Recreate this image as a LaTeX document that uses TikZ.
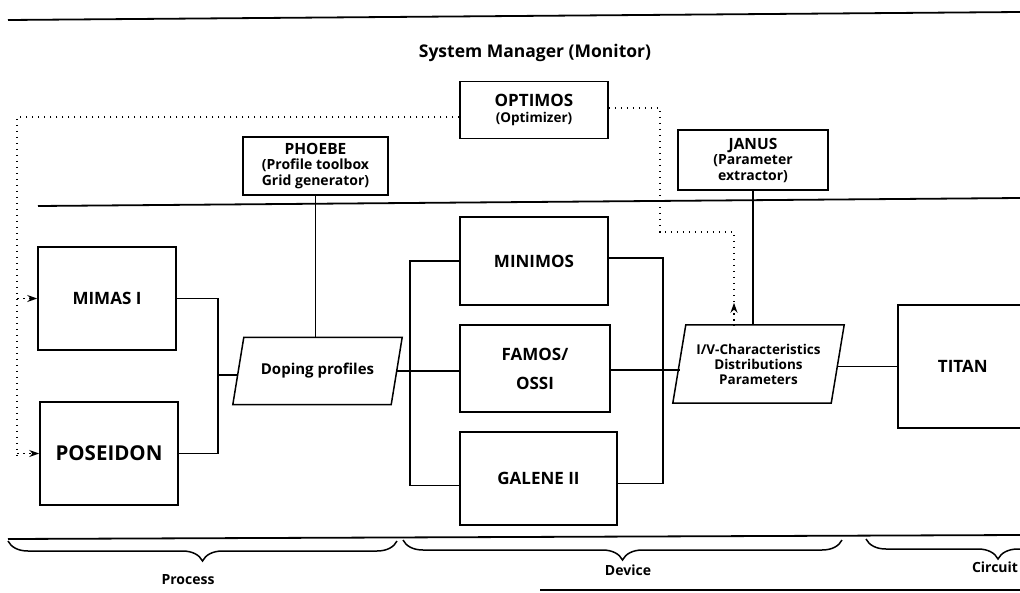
\documentclass[tikz,border=0pt]{standalone}
\usepackage{fontspec}
\setmainfont{Open Sans}
\usetikzlibrary{arrows.meta, positioning, calc, decorations.pathreplacing}

\begin{document}
\begin{tikzpicture}[x=1pt, y=-1pt,
  tool/.style={draw, line width=1.6pt, inner sep=0pt, align=center, font=\fontsize{17}{19}\selectfont\bfseries},
  tag/.style={draw, line width=1.5pt, inner sep=0pt, align=center, font=\fontsize{14}{15.5}\selectfont\bfseries},
  datafile/.style={inner sep=0pt, align=center},
  wire/.style={line width=1.5pt},
  monitor/.style={line width=1.5pt, dash pattern=on 1.5pt off 4.5pt},
  rule/.style={line width=1.8pt},
  span/.style={line width=1.5pt, decorate, decoration={brace, mirror, amplitude=20pt}},
  lbl/.style={font=\fontsize{14}{16}\selectfont\bfseries},
  >={Stealth[length=10pt, width=7pt]}]
  \clip (0,0) rectangle (1020,592);

  % Frame rules
  \draw[rule] (8,20) -- (1020,12);
  \draw[rule] (38,206) -- (1020,198);
  \draw[rule] (8,539) -- (1020,535);
  \draw[rule] (540,590) -- (1020,590);

  \node[font=\fontsize{17.5}{19}\selectfont\bfseries] (sysman) at (535,53) {System Manager (Monitor)};

  % Tools above the flow
  \node[tag, minimum width=148pt, minimum height=57pt] (optimos) at (534,110)
    {{\fontsize{17}{18}\selectfont OPTIMOS}\\{\fontsize{13.5}{15}\selectfont (Optimizer)}};
  \node[tag, minimum width=145pt, minimum height=58pt] (phoebe) at (315.5,166)
    {{\fontsize{15.5}{16}\selectfont PHOEBE}\\(Profile toolbox\\Grid generator)};
  \node[tag, minimum width=150pt, minimum height=60pt] (janus) at (753,160)
    {{\fontsize{15.5}{16}\selectfont JANUS}\\(Parameter\\extractor)};

  % Process
  \node[tool, minimum width=138pt, minimum height=103pt] (mimas) at (107,298.5) {MIMAS I};
  \node[tool, minimum width=138pt, minimum height=103pt, font=\fontsize{20.5}{22}\selectfont\bfseries] (poseidon) at (109,453.5) {POSEIDON};

  % Doping profiles
  \node[datafile, minimum width=169pt, minimum height=67pt, font=\fontsize{15}{17}\selectfont\bfseries] (doping) at (317.5,371) {Doping profiles};
  \draw[line width=1.5pt] ($(doping.north west)+(11,0)$) -- (doping.north east)
    -- ($(doping.south east)+(-11,0)$) -- (doping.south west) -- cycle;

  % Device
  \node[tool, minimum width=148pt, minimum height=88pt] (minimos) at (534,261) {MINIMOS};
  \node[tool, minimum width=150pt, minimum height=87pt] (famos) at (535,368.5) {FAMOS/\\[10pt]OSSI};
  \node[tool, minimum width=157pt, minimum height=93pt] (galene) at (538.5,478.5) {GALENE II};

  % I/V results
  \node[datafile, minimum width=171pt, minimum height=78pt, font=\fontsize{13.5}{15}\selectfont\bfseries] (iv) at (758.5,364)
    {I/V-Characteristics\\Distributions\\Parameters};
  \draw[line width=1.5pt] ($(iv.north west)+(13,0)$) -- (iv.north east)
    -- ($(iv.south east)+(-13,0)$) -- (iv.south west) -- cycle;

  % Circuit
  \node[tool, anchor=west, minimum width=140pt, minimum height=123pt] (titan) at (897,366.5) {\hspace*{-10pt}TITAN};

  % Connections
  \coordinate (pjoin) at (218,375);
  \draw[wire] (mimas.east) -| (pjoin) |- (poseidon.east);
  \draw[wire] (pjoin) -- ($(doping.west)+(5.5,4)$);
  \coordinate (din) at (410,371);
  \draw[wire] ($(doping.east)+(-5.5,0)$) -- (doping.east -| famos.west);
  \draw[wire] (minimos.west) -| (din) |- ($(galene.west)+(0,7)$);
  \coordinate (dout) at (663,370);
  \draw[wire] ($(minimos.east)+(0,-3)$) -| (dout) |- ($(galene.east)+(0,5)$);
  \draw[wire] ($(famos.east)+(0,1.5)$) -- ($(iv.west)+(7,6)$);
  \draw[wire] ($(iv.east)+(-6.5,2.5)$) -- (titan.west);
  \draw[wire] (phoebe.south) -- (phoebe.south |- doping.north);
  \draw[wire] (janus.south) -- (janus.south |- iv.north);

  % Monitor links
  \coordinate (mleft) at (17,117);
  \draw[monitor] ($(optimos.west)+(0,7)$) -- (mleft) -- (17,455);
  \draw[monitor, ->] (17,298.5) -- (mimas.west);
  \draw[monitor, ->] (17,453.5) -- (poseidon.west);
  \coordinate (tap) at (734,232);
  \draw[monitor] ($(optimos.east)+(0,-2)$) -| (660,232) -- (tap) -- (iv.north -| tap);
  \draw[monitor, ->] ($(iv.north -| tap)+(0,-4)$) -- ++(0,-18);

  % Domains
  \draw[span] (8,541) -- (397,541);
  \draw[span] (403,540) -- (842,540);
  \draw[span] (866,539) -- (1130,539);
  \node[lbl] (process) at (188,580) {Process};
  \node[lbl] (device) at (628,570) {Device};
  \node[lbl] (circuit) at (995,567) {Circuit};
\end{tikzpicture}
\end{document}
